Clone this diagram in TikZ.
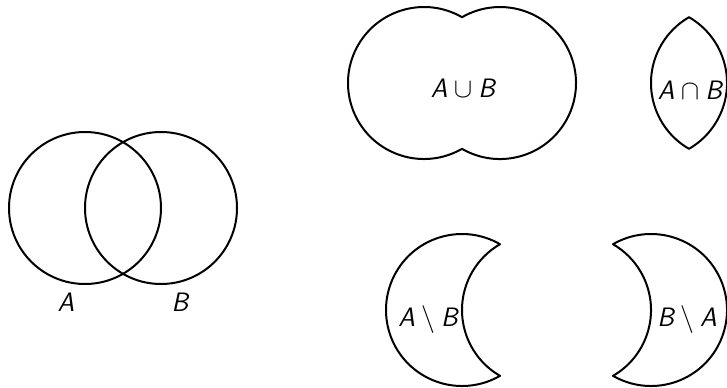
\documentclass[tikz,border=0pt]{standalone}
\usepackage{amssymb}
\newcommand{\sA}{{\sffamily\slshape A}}
\newcommand{\sB}{{\sffamily\slshape B}}
\tikzset{
  setline/.style={line width=1.5pt, line join=round},
  lbl/.style={inner sep=0pt, font=\fontsize{20}{24}\selectfont}
}
\begin{document}
\begin{tikzpicture}[x=0.75pt,y=0.75pt]
\useasboundingbox (0,0) rectangle (727,387);
% left Venn diagram
\draw[setline] (85,179) circle[radius=76];
\draw[setline] (161,179) circle[radius=76];
\node[lbl] (lA) at (66,85) {\sA};
\node[lbl] (lB) at (180,85) {\sB};
% union
\draw[setline] (462,369.8) arc[start angle=60,end angle=300,radius=76]
  arc[start angle=240,end angle=480,radius=76] -- cycle;
\node[lbl] (lU) at (463,299) {\sA${}\cup{}$\sB};
% intersection
\draw[setline] (689,369.8) arc[start angle=60,end angle=-60,radius=76]
  arc[start angle=240,end angle=120,radius=76] -- cycle;
\node[lbl] (lI) at (690,297) {\sA${}\cap{}$\sB};
% A minus B
\draw[setline] (500,142.8) arc[start angle=60,end angle=300,radius=76]
  arc[start angle=240,end angle=120,radius=76] -- cycle;
\node[lbl] (lAB) at (428,67) {\sA${}\setminus{}$\sB};
% B minus A
\draw[setline] (613,142.8) arc[start angle=120,end angle=-120,radius=76]
  arc[start angle=-60,end angle=60,radius=76] -- cycle;
\node[lbl] (lBA) at (687,67) {\sB${}\setminus{}$\sA};
\end{tikzpicture}
\end{document}
